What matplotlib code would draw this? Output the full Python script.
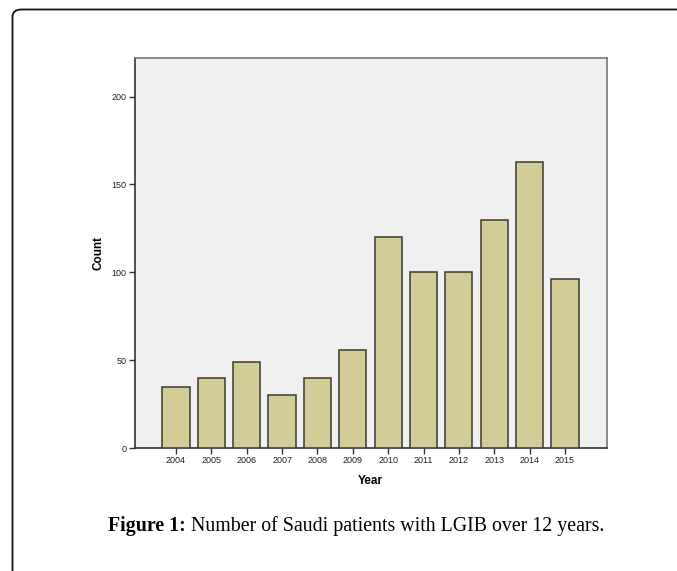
import matplotlib
matplotlib.use("Agg")
import matplotlib.pyplot as plt
from matplotlib.patches import FancyBboxPatch

years = ["2004", "2005", "2006", "2007", "2008", "2009", "2010", "2011", "2012", "2013", "2014", "2015"]
counts = [35, 40, 49, 30, 40, 56, 120, 100, 100, 130, 163, 96]
yticks = [0, 50, 100, 150, 200]

W, H = 677, 571
fig = plt.figure(figsize=(W / 100, H / 100), dpi=100)
fig.patch.set_facecolor("white")

# outer rounded border (open to right and bottom)
border = FancyBboxPatch((12.5 / W, -0.2), 1.2, (H - 9.5) / H + 0.2,
                        boxstyle="round,pad=0,rounding_size=0.013",
                        transform=fig.transFigure, fill=False,
                        edgecolor="#111111", linewidth=1.3, clip_on=False)
fig.patches.append(border)

ax = fig.add_axes([135 / W, (H - 448) / H, (607 - 135) / W, (448 - 58) / H])
ax.set_facecolor("#f0f0f0")
x = list(range(len(years)))
ax.bar(x, counts, width=0.77, color="#d3cc96", edgecolor="#3a3a32", linewidth=1.1, zorder=3)
ax.set_xlim(-1.16, 12.19)
ax.set_ylim(0, 222)
ax.set_xticks(x)
ax.set_xticklabels(years, fontsize=6.5, family="Liberation Sans", color="#222222")
ax.set_yticks(yticks)
ax.set_yticklabels([str(v) for v in yticks], fontsize=6.5, family="Liberation Sans", color="#222222")
ax.tick_params(axis="both", length=4, width=1, color="#333333", pad=2)
for s in ["left", "bottom"]:
    ax.spines[s].set_color("#333333")
    ax.spines[s].set_linewidth(1.2)
for s in ["top", "right"]:
    ax.spines[s].set_color("#777777")
    ax.spines[s].set_linewidth(1.2)

ax.set_ylabel("Count", fontsize=8.5, fontweight="bold", family="Liberation Sans", va="center")
ax.yaxis.set_label_coords((98 - 135) / (607 - 135), 0.5)
fig.text(370 / W, 1 - 481 / H, "Year", fontsize=8.5, fontweight="bold", family="Liberation Sans",
         ha="center", va="center")

# caption
fig.canvas.draw()
renderer = fig.canvas.get_renderer()
base = 1 - 531 / H
t1 = fig.text(108 / W, base, "Figure 1:", fontsize=14.3, fontweight="bold",
              family="Liberation Serif", ha="left", va="baseline")
bb = t1.get_window_extent(renderer=renderer)
fig.text(bb.x1 / W + 5 / W, base, "Number of Saudi patients with LGIB over 12 years.",
         fontsize=14.3, family="Liberation Serif", ha="left", va="baseline")

fig.savefig("out.png", dpi=100)
